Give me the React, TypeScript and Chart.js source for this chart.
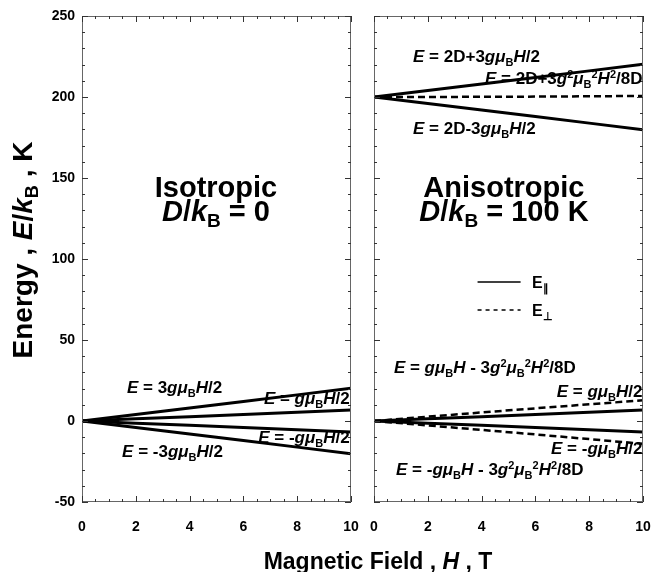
import React, { useEffect, useRef } from 'react';
import { Chart, registerables } from 'chart.js';

Chart.register(...registerables);

// ---- data ----
const fieldH = [0, 2, 4, 6, 8, 10];
// isotropic, D/kB = 0
const isoUp3 = [0, 4.03, 8.06, 12.09, 16.12, 20.15];
const isoUp1 = [0, 1.34, 2.69, 4.03, 5.37, 6.72];
const isoDown1 = [0, -1.34, -2.69, -4.03, -5.37, -6.72];
const isoDown3 = [0, -4.03, -8.06, -12.09, -16.12, -20.15];
// anisotropic, D/kB = 100 K
const anisoTopPar = [200, 204.03, 208.06, 212.09, 216.12, 220.15];
const anisoTopPerp = [200, 200.03, 200.11, 200.24, 200.43, 200.68];
const anisoMidPar = [200, 195.97, 191.94, 187.91, 183.88, 179.85];
const anisoUpPar = [0, 1.34, 2.69, 4.03, 5.37, 6.72];
const anisoUpPerp = [0, 2.66, 5.27, 7.82, 10.31, 12.76];
const anisoDownPar = [0, -1.34, -2.69, -4.03, -5.37, -6.72];
const anisoDownPerp = [0, -2.71, -5.48, -8.3, -11.18, -14.11];
// ticks
const xTickValues = [0, 2, 4, 6, 8, 10];
const yTickValues = [-50, 0, 50, 100, 150, 200, 250];
const xMinorStep = 0.5;
const yMinorStep = 10;
// legend
const legendLabels = ['E_∥_', 'E_⊥_'];

const FAMILY = '"Liberation Sans", Arial, Helvetica, sans-serif';
const SOLID: number[] = [];
const DASH = [7, 4];

type Run = { t: string; it: boolean; sub: boolean; sup: boolean };
function parseRich(s: string): Run[] {
  const runs: Run[] = [];
  let it = false, sub = false, sup = false, buf = '';
  const flush = () => {
    if (buf) runs.push({ t: buf, it, sub, sup });
    buf = '';
  };
  for (const ch of s) {
    if (ch === '*') { flush(); it = !it; }
    else if (ch === '_') { flush(); sub = !sub; }
    else if (ch === '^') { flush(); sup = !sup; }
    else buf += ch;
  }
  flush();
  return runs;
}
function runFont(r: Run, size: number) {
  const s = r.sub || r.sup ? Math.round(size * 0.66) : size;
  return `${r.it ? 'italic ' : ''}bold ${s}px ${FAMILY}`;
}
function drawRich(ctx: CanvasRenderingContext2D, text: string, x: number, y: number, size: number, align: string) {
  const runs = parseRich(text);
  let total = 0;
  const ws = runs.map((r) => {
    ctx.font = runFont(r, size);
    const w = ctx.measureText(r.t).width;
    total += w;
    return w;
  });
  let cx = align === 'left' ? x : align === 'center' ? x - total / 2 : x - total;
  ctx.textBaseline = 'alphabetic';
  ctx.textAlign = 'left';
  ctx.fillStyle = '#000';
  runs.forEach((r, i) => {
    ctx.font = runFont(r, size);
    const dy = r.sub ? size * 0.22 : r.sup ? -size * 0.36 : 0;
    ctx.fillText(r.t, cx, y + dy);
    cx += ws[i];
  });
}

type Note = { text: string; h: number; e: number; size: number; align: string };

const leftNotes: Note[] = [
  { text: '*E* = 3*gμ*_B_*H*/2', h: 1.67, e: 17.3, size: 17, align: 'left' },
  { text: '*E* = *gμ*_B_*H*/2', h: 9.95, e: 10.5, size: 17, align: 'right' },
  { text: '*E* = -*gμ*_B_*H*/2', h: 9.95, e: -13.6, size: 17, align: 'right' },
  { text: '*E* = -3*gμ*_B_*H*/2', h: 1.49, e: -22.2, size: 17, align: 'left' },
  { text: 'Isotropic', h: 4.98, e: 138.5, size: 29, align: 'center' },
  { text: '*D*/*k*_B_ = 0', h: 4.98, e: 123.5, size: 29, align: 'center' },
];
const rightNotes: Note[] = [
  { text: '*E* = 2D+3*gμ*_B_*H*/2', h: 1.45, e: 221.6, size: 17, align: 'left' },
  { text: '*E* = 2D+3*g*^2^*μ*_B_^2^*H*^2^/8D', h: 9.98, e: 208, size: 17, align: 'right' },
  { text: '*E* = 2D-3*gμ*_B_*H*/2', h: 1.45, e: 177, size: 17, align: 'left' },
  { text: 'Anisotropic', h: 4.83, e: 138.5, size: 29, align: 'center' },
  { text: '*D*/*k*_B_ = 100 K', h: 4.83, e: 123.5, size: 29, align: 'center' },
  { text: '*E* = *gμ*_B_*H* - 3*g*^2^*μ*_B_^2^*H*^2^/8D', h: 0.74, e: 29.6, size: 17, align: 'left' },
  { text: '*E* = *gμ*_B_*H*/2', h: 9.98, e: 14.8, size: 17, align: 'right' },
  { text: '*E* = -*gμ*_B_*H*/2', h: 9.98, e: -20.4, size: 17, align: 'right' },
  { text: '*E* = -*gμ*_B_*H* - 3*g*^2^*μ*_B_^2^*H*^2^/8D', h: 0.82, e: -33.3, size: 17, align: 'left' },
];

function framePlugin(notes: Note[], extra?: (chart: any) => void) {
  return {
    id: 'frameNotes',
    afterDatasetsDraw(chart: any) {
      const { ctx, chartArea: a, scales } = chart;
      const x = scales.x, y = scales.y;
      ctx.save();
      ctx.strokeStyle = '#666';
      ctx.lineWidth = 1;
      ctx.strokeRect(a.left + 0.5, a.top + 0.5, a.right - a.left - 1, a.bottom - a.top - 1);
      ctx.strokeStyle = '#333';
      // y ticks (left and right, inward)
      const yMin = yTickValues[0], yMax = yTickValues[yTickValues.length - 1];
      for (let v = yMin; v <= yMax + 1e-9; v += yMinorStep) {
        const major = yTickValues.includes(v);
        const len = major ? 6 : 3;
        const py = Math.round(y.getPixelForValue(v)) + 0.5;
        ctx.beginPath();
        ctx.moveTo(a.left, py); ctx.lineTo(a.left + len, py);
        ctx.moveTo(a.right, py); ctx.lineTo(a.right - len, py);
        ctx.stroke();
      }
      const xMin = xTickValues[0], xMax = xTickValues[xTickValues.length - 1];
      for (let v = xMin; v <= xMax + 1e-9; v += xMinorStep) {
        const major = xTickValues.includes(v);
        const len = major ? 6 : 3;
        const px = Math.round(x.getPixelForValue(v)) + 0.5;
        ctx.beginPath();
        ctx.moveTo(px, a.bottom); ctx.lineTo(px, a.bottom - len);
        ctx.moveTo(px, a.top); ctx.lineTo(px, a.top + len);
        ctx.stroke();
      }
      notes.forEach((n) => {
        drawRich(ctx, n.text, x.getPixelForValue(n.h), y.getPixelForValue(n.e), n.size, n.align);
      });
      if (extra) extra(chart);
      ctx.restore();
    },
  };
}

function series(values: number[]) {
  return fieldH.map((h, i) => ({ x: h, y: values[i] }));
}
function ds(values: number[], dash: number[]) {
  return {
    data: series(values),
    borderColor: '#000',
    borderWidth: dash.length ? 2.5 : 3,
    borderDash: dash,
    pointRadius: 0,
    tension: 0,
    fill: false,
  };
}

function makeOptions(showY: boolean, padRight: number, yWidth: number) {
  return {
    animation: false,
    responsive: false,
    events: [],
    layout: { padding: { top: 16, right: padRight, bottom: 0, left: 0 } },
    plugins: { legend: { display: false }, tooltip: { enabled: false } },
    scales: {
      x: {
        type: 'linear',
        min: 0,
        max: 10,
        grid: { display: false, drawTicks: false },
        border: { display: false },
        afterBuildTicks: (s: any) => { s.ticks = xTickValues.map((v) => ({ value: v })); },
        ticks: {
          color: '#000',
          font: { family: FAMILY, size: 14, weight: 'bold' },
          padding: 17,
          maxRotation: 0,
          autoSkip: false,
        },
        afterFit: (s: any) => { s.height = 70; s.paddingLeft = 0; s.paddingRight = 0; },
      },
      y: {
        type: 'linear',
        min: -50,
        max: 250,
        grid: { display: false, drawTicks: false },
        border: { display: false },
        afterBuildTicks: (s: any) => { s.ticks = yTickValues.map((v) => ({ value: v })); },
        ticks: {
          display: showY,
          color: '#000',
          font: { family: FAMILY, size: 14, weight: 'bold' },
          padding: 7,
          autoSkip: false,
        },
        afterFit: (s: any) => { s.width = yWidth; s.paddingTop = 0; s.paddingBottom = 0; },
      },
    },
  };
}

function drawTitles(chart: any) {
  const ctx: CanvasRenderingContext2D = chart.ctx;
  // x title, centred under both panels
  drawRich(ctx, 'Magnetic Field , *H* , T', 378, 569, 23, 'center');
  // y title, rotated
  ctx.save();
  ctx.translate(32, 250);
  ctx.rotate(-Math.PI / 2);
  drawRich(ctx, 'Energy , *E*/*k*_B_ , K', 0, 0, 28, 'center');
  ctx.restore();
}

function drawLegend(chart: any) {
  const ctx: CanvasRenderingContext2D = chart.ctx;
  const x = chart.scales.x, y = chart.scales.y;
  const rows = [
    { e: 85.8, dash: SOLID, label: legendLabels[0] },
    { e: 68.5, dash: [4, 4], label: legendLabels[1] },
  ];
  rows.forEach((r) => {
    const py = y.getPixelForValue(r.e);
    ctx.save();
    ctx.strokeStyle = '#000';
    ctx.lineWidth = 1.5;
    ctx.setLineDash(r.dash);
    ctx.beginPath();
    ctx.moveTo(x.getPixelForValue(3.85), py);
    ctx.lineTo(x.getPixelForValue(5.45), py);
    ctx.stroke();
    ctx.restore();
    drawRich(ctx, r.label, x.getPixelForValue(5.87), py + 6, 16, 'left');
  });
}

export default function App() {
  const leftRef = useRef<HTMLCanvasElement>(null);
  const rightRef = useRef<HTMLCanvasElement>(null);

  useEffect(() => {
    const left = new Chart(leftRef.current as HTMLCanvasElement, {
      type: 'line',
      data: {
        datasets: [ds(isoUp3, SOLID), ds(isoUp1, SOLID), ds(isoDown1, SOLID), ds(isoDown3, SOLID)],
      },
      options: makeOptions(true, 301, 82) as any,
      plugins: [framePlugin(leftNotes, drawTitles)],
    } as any);
    const right = new Chart(rightRef.current as HTMLCanvasElement, {
      type: 'line',
      data: {
        datasets: [
          ds(anisoTopPar, SOLID),
          ds(anisoTopPerp, DASH),
          ds(anisoMidPar, SOLID),
          ds(anisoUpPar, SOLID),
          ds(anisoUpPerp, DASH),
          ds(anisoDownPar, SOLID),
          ds(anisoDownPerp, DASH),
        ],
      },
      options: makeOptions(false, 9, 10) as any,
      plugins: [framePlugin(rightNotes, drawLegend)],
    } as any);
    return () => {
      left.destroy();
      right.destroy();
    };
  }, []);

  return (
    <div style={{ position: 'absolute', left: 0, top: 0, width: 652, height: 572, background: '#fff' }}>
      <canvas ref={leftRef} width={652} height={572} style={{ position: 'absolute', left: 0, top: 0 }} />
      <canvas ref={rightRef} width={288} height={572} style={{ position: 'absolute', left: 364, top: 0 }} />
    </div>
  );
}
